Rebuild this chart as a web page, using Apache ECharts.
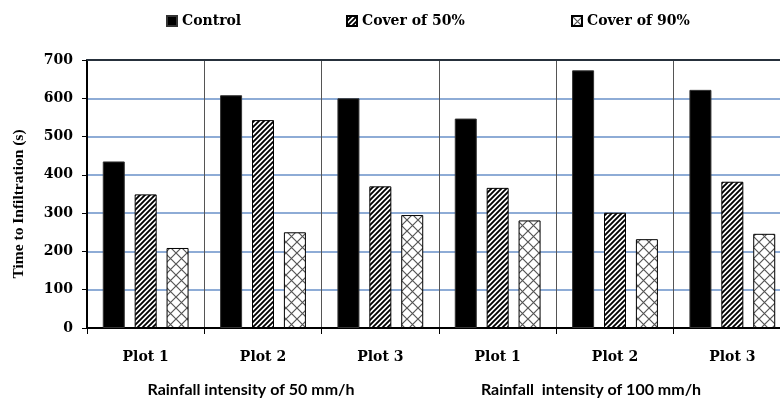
<!DOCTYPE html>
<html>
<head>
<meta charset="utf-8">
<script src="https://cdn.jsdelivr.net/npm/echarts@6/dist/echarts.min.js"></script>
<style>html,body{margin:0;padding:0;background:#fff;}#c{width:780px;height:400px;}</style>
</head>
<body>
<div id="c"></div>
<script>
const categories = ['Plot 1', 'Plot 2', 'Plot 3', 'Plot 1', 'Plot 2', 'Plot 3'];
const groupLabels = ['Rainfall intensity of 50 mm/h', 'Rainfall  intensity of 100 mm/h'];
const seriesNames = ['Control', 'Cover of 50%', 'Cover of 90%'];
const controlValues = [435, 608, 600, 547, 673, 622];
const cover50Values = [349, 543, 370, 366, 301, 382];
const cover90Values = [209, 250, 295, 281, 232, 246];
const yTicks = [0, 100, 200, 300, 400, 500, 600, 700];

function stripePattern() {
  const s = 5;
  const c = document.createElement('canvas');
  c.width = s; c.height = s;
  const g = c.getContext('2d');
  g.fillStyle = '#fff'; g.fillRect(0, 0, s, s);
  g.strokeStyle = '#000'; g.lineWidth = 1.9;
  g.beginPath();
  g.moveTo(-1, 1); g.lineTo(1, -1);
  g.moveTo(0, s); g.lineTo(s, 0);
  g.moveTo(s - 1, s + 1); g.lineTo(s + 1, s - 1);
  g.stroke();
  return c;
}
function crossPattern() {
  const s = 11;
  const c = document.createElement('canvas');
  c.width = s; c.height = s;
  const g = c.getContext('2d');
  g.fillStyle = '#fff'; g.fillRect(0, 0, s, s);
  g.strokeStyle = '#555'; g.lineWidth = 1.2;
  g.beginPath();
  g.moveTo(0, 0); g.lineTo(s, s);
  g.moveTo(0, s); g.lineTo(s, 0);
  g.stroke();
  return c;
}

const serifBold = {fontFamily: 'DejaVu Serif', fontWeight: 'bold', fontSize: 14, color: '#000'};
const chart = echarts.init(document.getElementById('c'), null, {renderer: 'canvas'});
const legendBase = {
  top: 9, itemWidth: 10, itemHeight: 10, icon: 'rect', itemGap: 5,
  textStyle: Object.assign({}, serifBold), selectedMode: false
};
const blue = '#6890c8';
chart.setOption({
  animation: false,
  backgroundColor: '#fff',
  legend: [
    Object.assign({left: 161, data: [seriesNames[0]]}, legendBase),
    Object.assign({left: 341, data: [seriesNames[1]]}, legendBase),
    Object.assign({left: 566, data: [seriesNames[2]]}, legendBase)
  ],
  grid: {left: 87, width: 704, top: 60, bottom: 72, containLabel: false, outerBoundsMode: 'none'},
  xAxis: [{
    type: 'category', data: categories,
    axisLine: {lineStyle: {color: '#000', width: 2}},
    axisTick: {show: true, length: 6, interval: 0, lineStyle: {color: '#000', width: 1}},
    axisLabel: Object.assign({margin: 22, interval: 0}, serifBold),
    splitLine: {show: true, interval: 0, lineStyle: {color: '#555', width: 1}}
  }, {
    type: 'category', data: categories, position: 'top',
    axisLine: {show: true, lineStyle: {color: '#26303b', width: 2}},
    axisTick: {show: false}, axisLabel: {show: false}, splitLine: {show: false}
  }],
  yAxis: {
    type: 'value', min: yTicks[0], max: yTicks[yTicks.length - 1], interval: 100,
    name: 'Time to Infiltration (s)', nameLocation: 'middle', nameGap: 60, nameRotate: 90,
    nameTextStyle: {fontFamily: 'Liberation Serif', fontWeight: 'bold', fontSize: 15.5, color: '#000', padding: [0, 20, 0, 0]},
    axisLine: {show: true, lineStyle: {color: '#000', width: 2}},
    axisTick: {show: true, length: 5, lineStyle: {color: '#000'}},
    axisLabel: Object.assign({margin: 14}, serifBold),
    splitLine: {show: true, lineStyle: {color: ['#000', blue, blue, blue, blue, blue, blue, 'rgba(0,0,0,0)'], width: 1.5}}
  },
  series: [{
    name: seriesNames[0], type: 'bar', data: controlValues, barWidth: 22, barGap: '45%',
    itemStyle: {color: '#000', borderColor: '#333', borderWidth: 1}
  }, {
    name: seriesNames[1], type: 'bar', data: cover50Values, barWidth: 22, barGap: '45%',
    itemStyle: {color: {image: stripePattern(), repeat: 'repeat'}, borderColor: '#000', borderWidth: 1}
  }, {
    name: seriesNames[2], type: 'bar', data: cover90Values, barWidth: 22, barGap: '45%',
    itemStyle: {color: {image: crossPattern(), repeat: 'repeat'}, borderColor: '#000', borderWidth: 1}
  }],
  graphic: [
    {type: 'text', x: 251, y: 390, style: {text: groupLabels[0], font: 'bold 16px Lato', fill: '#000', textAlign: 'center', textVerticalAlign: 'middle'}},
    {type: 'text', x: 591, y: 390, style: {text: groupLabels[1], font: 'bold 16px Lato', fill: '#000', textAlign: 'center', textVerticalAlign: 'middle'}}
  ]
});
</script>
</body>
</html>
